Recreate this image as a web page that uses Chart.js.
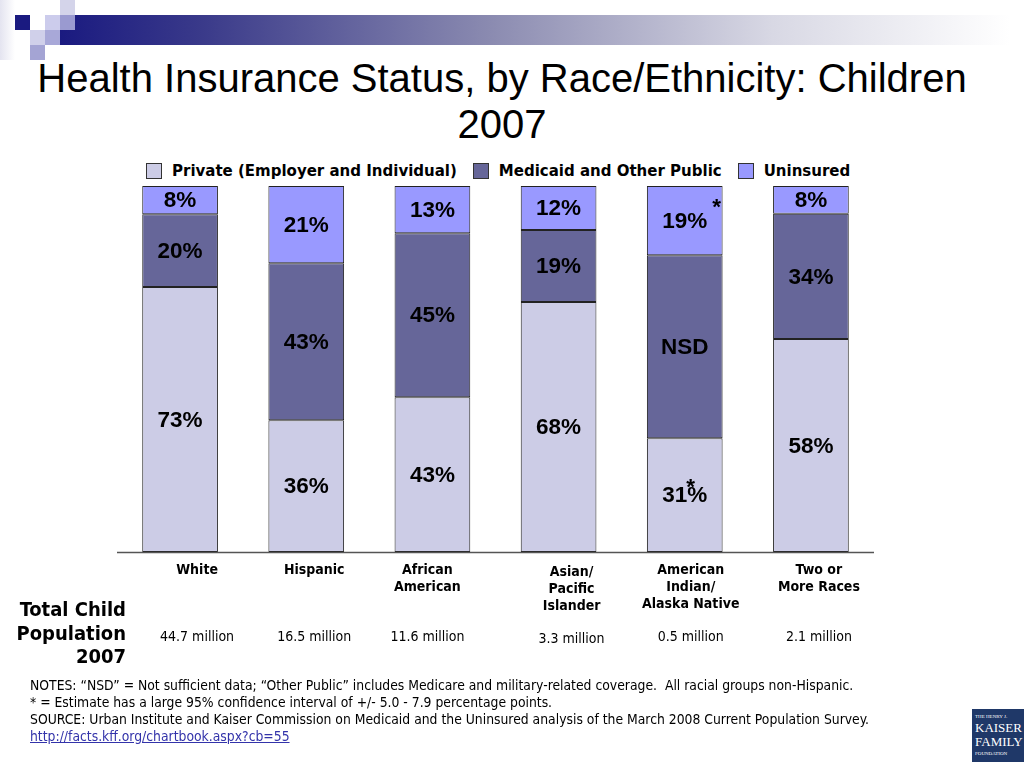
<!DOCTYPE html>
<html>
<head>
<meta charset="utf-8">
<script src="https://cdn.jsdelivr.net/npm/chart.js@4.4.1/dist/chart.umd.min.js"></script>
<style>
  html,body{margin:0;padding:0;background:#fff;}
  #wrap{position:relative;width:1024px;height:768px;overflow:hidden;font-family:"DejaVu Sans Condensed","DejaVu Sans",sans-serif;}
  #cv{position:absolute;left:0;top:0;}
  .sq{position:absolute;width:15px;height:15px;}
  #band{position:absolute;left:60px;top:15px;width:950px;height:30px;
        background:linear-gradient(to right,#1a1a80 0%,#3a3a8a 15%,#8a8ab0 45%,#d8d8e4 75%,#fff 100%);}
  #title{position:absolute;left:0;top:55px;width:1004px;text-align:center;font-family:"Liberation Sans",Arial,sans-serif;
         font-size:40px;line-height:46px;color:#000;}
  #legend{position:absolute;top:162px;left:146px;font-family:"DejaVu Sans",sans-serif;font-weight:bold;font-size:15px;display:flex;align-items:center;white-space:nowrap;}
  #legend span.box{display:inline-block;width:14px;height:14px;border:1px solid #333;margin-right:10px;}
  #legend span.item{display:flex;align-items:center;margin-right:16px;}
  .cat{position:absolute;width:140px;margin-left:-70px;text-align:center;font-weight:bold;font-size:14px;line-height:17px;}
  .pop{position:absolute;width:140px;margin-left:-70px;text-align:center;font-size:14px;line-height:17px;}
  #poptitle{position:absolute;right:898px;top:598px;text-align:right;font-weight:bold;font-size:20px;line-height:23.5px;}
  #notes{position:absolute;left:30px;top:677px;font-size:13.8px;line-height:17px;white-space:nowrap;}
  #notes a{color:#3333aa;}
  #logo{position:absolute;left:972px;top:709px;width:60px;height:53px;background:#1f3868;color:#fff;
        font-family:"Liberation Serif",serif;text-align:left;padding-left:3px;box-sizing:border-box;}
</style>
</head>
<body>
<div id="wrap">
  <div id="band"></div>
  <div class="sq" style="left:0;top:0;width:15px;height:60px;background:linear-gradient(to right,#e4e4f0,#fff)"></div>
  <div class="sq" style="left:60px;top:0;background:#d4d4ea"></div>
  <div class="sq" style="left:15px;top:15px;background:#1a1a80"></div>
  <div class="sq" style="left:45px;top:15px;background:#ccccec"></div>
  <div class="sq" style="left:60px;top:15px;background:#9a9ad0"></div>
  <div class="sq" style="left:30px;top:30px;background:#d0d0ea"></div>
  <div class="sq" style="left:45px;top:30px;background:#a8a8d8"></div>
  <div class="sq" style="left:30px;top:45px;background:#a4a4d4"></div>

  <div id="title">Health Insurance Status, by Race/Ethnicity: Children<br>2007</div>

  <div id="legend"></div>

  <canvas id="cv" width="1024" height="768"></canvas>

  <div id="cats"></div>
  <div id="poptitle">Total Child<br>Population<br>2007</div>

  <div id="notes">NOTES: “NSD” = Not sufficient data; “Other Public” includes Medicare and military-related coverage.&nbsp; All racial groups non-Hispanic.<br>
* = Estimate has a large 95% confidence interval of +/- 5.0 - 7.9 percentage points.<br>
SOURCE: Urban Institute and Kaiser Commission on Medicaid and the Uninsured analysis of the March 2008 Current Population Survey.<br>
<a href="#">http://facts.kff.org/chartbook.aspx?cb=55</a></div>

  <div id="logo">
    <div style="font-size:5px;line-height:8px;margin-top:4px">THE HENRY J.</div>
    <div style="font-size:13px;line-height:14px">KAISER</div>
    <div style="font-size:13px;line-height:14px">FAMILY</div>
    <div style="font-size:5px;line-height:9px">FOUNDATION</div>
  </div>
</div>

<script>
// categorías (texto del eje) y población
const cats = [['White'],['Hispanic'],['African','American'],['Asian/','Pacific','Islander'],['American','Indian/','Alaska Native'],['Two or','More Races']];
const pop = ['44.7 million','16.5 million','11.6 million','3.3 million','0.5 million','2.1 million'];

// alturas de segmento (%)
const privado   = [72.4, 36.0, 42.3, 68.3, 31.1, 58.2];
const medicaid  = [19.9, 42.9, 44.8, 19.7, 50.0, 34.2];
const sinSeguro = [ 7.7, 21.1, 12.9, 12.0, 18.9,  7.6];

// etiquetas impresas
const privLbl = ['73%','36%','43%','68%','31%','58%'];
const medLbl  = ['20%','43%','45%','19%','NSD','34%'];
const unLbl   = ['8%','21%','13%','12%','19%','8%'];

const series = ['Private (Employer and Individual)','Medicaid and Other Public','Uninsured'];
const colores = ['#CCCCE6','#666699','#9999FF'];

/* ---------- leyenda y textos del eje ---------- */
document.getElementById('legend').innerHTML = series.map((s,i)=>
  `<span class="item"><span class="box" style="background:${colores[i]}"></span>${s}</span>`).join('');

// desplazamiento de los rótulos respecto al centro de barra (como en la diapositiva)
const dxCat = [17, 8, -5, 13, 6, 8];
const dyCat = [0, 0, 0, 2, 0, 0];

/* ---------- plugins ---------- */
const ejeX = {
  id:'ejeX',
  afterDatasetsDraw(ch){
    const {ctx, chartArea:a} = ch;
    ctx.save();
    ctx.strokeStyle='#555'; ctx.lineWidth=1.5;
    ctx.beginPath(); ctx.moveTo(a.left, a.bottom+0.5); ctx.lineTo(a.right, a.bottom+0.5); ctx.stroke();
    ctx.restore();
  }
};

const rotulos = {
  id:'rotulos',
  afterDatasetsDraw(ch){
    const ctx = ch.ctx, L=[privLbl, medLbl, unLbl];
    ctx.save();
    ctx.font = 'bold 22.5px "Liberation Sans", Arial, sans-serif';
    ctx.fillStyle = '#000'; ctx.textAlign='center'; ctx.textBaseline='middle';
    ch.data.datasets.forEach((ds,d)=>{
      ch.getDatasetMeta(d).data.forEach((b,i)=>{
        const yc = (b.y + b.base)/2;
        ctx.fillText(L[d][i], b.x, yc+1);
        if(i===4 && d===2) ctx.fillText('*', b.x+32, yc-13);
        if(i===4 && d===0) ctx.fillText('*', b.x+6, yc-7);
      });
    });
    ctx.restore();
  }
};

const colocaEje = {
  id:'colocaEje',
  afterLayout(ch){
    const x = ch.scales.x, top = ch.chartArea.bottom;
    let h='';
    cats.forEach((c,i)=>{
      const px = x.getPixelForValue(i);
      h += `<div class="cat" style="left:${px+dxCat[i]}px;top:${top+9+dyCat[i]}px">${c.join('<br>')}</div>`;
      h += `<div class="pop" style="left:${px+dxCat[i]}px;top:${top+76+dyCat[i]}px">${pop[i]}</div>`;
    });
    document.getElementById('cats').innerHTML = h;
  }
};

/* ---------- gráfico ---------- */
new Chart(document.getElementById('cv'), {
  type:'bar',
  data:{
    labels: cats.map(c=>c.join(' ')),
    datasets:[
      {label:series[0], data:privado,   backgroundColor:colores[0]},
      {label:series[1], data:medicaid,  backgroundColor:colores[1]},
      {label:series[2], data:sinSeguro, backgroundColor:colores[2]}
    ].map(d=>({...d, borderColor:'#222', borderWidth:1, borderSkipped:false, barPercentage:0.6, categoryPercentage:1}))
  },
  options:{
    responsive:false, animation:false,
    layout:{padding:{left:117, right:150, top:186, bottom:216}},
    plugins:{legend:{display:false}, tooltip:{enabled:false}},
    scales:{
      x:{display:false, stacked:true},
      y:{display:false, stacked:true, min:0, max:100}
    }
  },
  plugins:[ejeX, rotulos, colocaEje]
});
</script>
</body>
</html>
